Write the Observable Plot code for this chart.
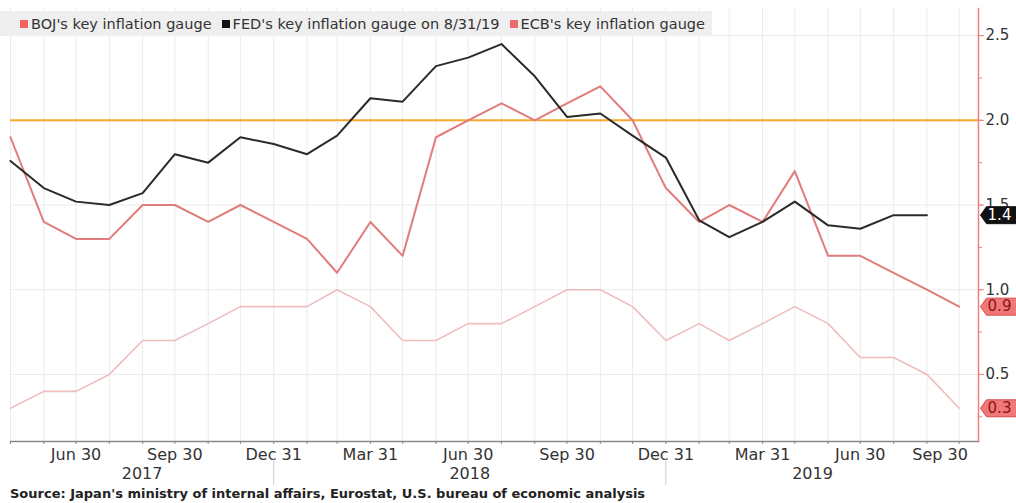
<!DOCTYPE html>
<html>
<head>
<meta charset="utf-8">
<script src="https://cdn.jsdelivr.net/npm/d3@7"></script>
<script src="https://cdn.jsdelivr.net/npm/@observablehq/plot@0.6"></script>
<style>
  body { margin: 0; background: #fff; font-family: "DejaVu Sans", sans-serif; }
  #wrap { position: relative; width: 1016px; }
  .legend {
    position: absolute; left: 0; top: 11px; width: 712px; height: 25px;
    background: #efefef; display: flex; align-items: center;
    font-size: 14.5px; color: #333; padding-left: 20px; box-sizing: border-box;
  }
  .item { display: flex; align-items: center; margin-right: 10px; white-space: nowrap; }
  .sw { width: 8px; height: 8px; margin-right: 3px; }
  .source { font-weight: bold; font-size: 13px; color: #222; padding-left: 10px; line-height: 18px; }
</style>
</head>
<body>
<div id="wrap">
  <div id="chart"></div>
  <div class="legend" id="legend"></div>
</div>
<div class="source">Source: Japan's ministry of internal affairs, Eurostat, U.S. bureau of economic analysis</div>
<script>
// Monthly readings, year-over-year %, dated at month end
const months = [
  "2017-04","2017-05","2017-06","2017-07","2017-08","2017-09","2017-10","2017-11","2017-12",
  "2018-01","2018-02","2018-03","2018-04","2018-05","2018-06","2018-07","2018-08","2018-09",
  "2018-10","2018-11","2018-12","2019-01","2019-02","2019-03","2019-04","2019-05","2019-06",
  "2019-07","2019-08","2019-09"
];
const bojValues = [0.3,0.4,0.4,0.5,0.7,0.7,0.8,0.9,0.9,0.9,1.0,0.9,0.7,0.7,0.8,0.8,0.9,1.0,1.0,0.9,0.7,0.8,0.7,0.8,0.9,0.8,0.6,0.6,0.5,0.3];
const fedValues = [1.76,1.60,1.52,1.50,1.57,1.80,1.75,1.90,1.86,1.80,1.91,2.13,2.11,2.32,2.37,2.45,2.26,2.02,2.04,1.91,1.78,1.41,1.31,1.40,1.52,1.38,1.36,1.44,1.44];
const ecbValues = [1.9,1.4,1.3,1.3,1.5,1.5,1.4,1.5,1.4,1.3,1.1,1.4,1.2,1.9,2.0,2.1,2.0,2.1,2.2,2.0,1.6,1.4,1.5,1.4,1.7,1.2,1.2,1.1,1.0,0.9];
const target = 2.0;
const yTicks = [0.5, 1.0, 1.5, 2.0, 2.5];
const seriesNames = ["BOJ's key inflation gauge", "FED's key inflation gauge on 8/31/19", "ECB's key inflation gauge"];

const colors = { boj: "#efbdbd", fed: "#2a2a2a", ecb: "#e27b7b", target: "#f5a82e", axis: "#ef7f7f" };

const monthEnd = m => d3.utcDay.offset(d3.utcMonth.offset(d3.utcParse("%Y-%m")(m), 1), -1);
const dates = months.map(monthEnd);
const toRows = vals => vals.map((v, i) => ({ date: dates[i], value: v }));
const boj = toRows(bojValues), fed = toRows(fedValues), ecb = toRows(ecbValues);

const firstDate = dates[0], lastDate = dates[dates.length - 1];
const xDomain = [firstDate, d3.utcDay.offset(lastDate, 18)];
const quarterEnds = dates.filter(d => d.getUTCMonth() % 3 === 2);
const yearBreaks = dates.filter(d => d.getUTCMonth() === 11);
// Year captions centred over the months each year covers
const years = [2017, 2018, 2019].map(y => {
  const a = d3.max([firstDate, new Date(Date.UTC(y - 1, 11, 31))]);
  const b = d3.min([lastDate, new Date(Date.UTC(y, 11, 31))]);
  return { year: String(y), mid: new Date((+a + +b) / 2) };
});

// Value tags pinned to the right axis
const fmt = d3.format(".1f");
const tags = [
  { value: fedValues[fedValues.length - 1], fill: "#111", stroke: "#111", text: "#fff" },
  { value: ecbValues[ecbValues.length - 1], fill: "#f07878", stroke: "#d44c4c", text: "#8a1414" },
  { value: bojValues[bojValues.length - 1], fill: "#f07878", stroke: "#d44c4c", text: "#8a1414" }
];
const tagShape = {
  draw(ctx) {
    ctx.moveTo(0, 0); ctx.lineTo(6, -8.5); ctx.lineTo(46, -8.5);
    ctx.lineTo(46, 8.5); ctx.lineTo(6, 8.5); ctx.closePath();
  }
};

const chart = Plot.plot({
  width: 1016,
  height: 485,
  marginLeft: 10,
  marginRight: 38,
  marginTop: 8,
  marginBottom: 44,
  style: { fontFamily: "DejaVu Sans, sans-serif", background: "#fff", color: "#333" },
  x: { type: "utc", domain: xDomain },
  y: { domain: [0.104, 2.66] },
  marks: [
    Plot.gridX({ ticks: dates, stroke: "#ebebeb", strokeOpacity: 1 }),
    Plot.gridY({ ticks: yTicks, stroke: "#ebebeb", strokeOpacity: 1 }),
    Plot.ruleY([target], { stroke: colors.target, strokeWidth: 2 }),
    Plot.line(boj, { x: "date", y: "value", stroke: colors.boj, strokeWidth: 1.6 }),
    Plot.line(ecb, { x: "date", y: "value", stroke: colors.ecb, strokeWidth: 2 }),
    Plot.line(fed, { x: "date", y: "value", stroke: colors.fed, strokeWidth: 2 }),
    Plot.frame({ anchor: "bottom", stroke: "#888", strokeWidth: 1.5 }),
    Plot.axisX({ ticks: dates, tickSize: 3, tickFormat: () => "", stroke: "#888", label: null }),
    Plot.axisX({ ticks: quarterEnds.slice(0, -1), tickSize: 0, tickPadding: 7, tickFormat: d3.utcFormat("%b %d"),
                 fontSize: 16, fill: "#333", label: null }),
    Plot.axisX({ ticks: quarterEnds.slice(-1), tickSize: 0, tickPadding: 7, tickFormat: d3.utcFormat("%b %d"),
                 fontSize: 16, fill: "#333", label: null, dx: -19 }),
    Plot.text(years, { x: "mid", text: "year", frameAnchor: "bottom", dy: 37, fontSize: 16, fill: "#333" }),
    Plot.ruleX(yearBreaks, { stroke: "#ccc", insetTop: 450, insetBottom: -46 }),
    Plot.frame({ anchor: "right", stroke: colors.axis, strokeWidth: 1.5 }),
    Plot.axisY({ anchor: "right", ticks: d3.range(0.25, 2.6, 0.25), tickSize: 3, tickFormat: () => "",
                 stroke: colors.axis, label: null }),
    Plot.axisY({ anchor: "right", ticks: yTicks, tickSize: 5, tickPadding: 2, tickFormat: ".1f",
                 fontSize: 15, stroke: colors.axis, fill: "#333", label: null }),
    Plot.dot(tags, { y: "value", frameAnchor: "right", dx: 2, symbol: tagShape, fill: "fill", stroke: "stroke", strokeWidth: 1 }),
    Plot.text(tags, { y: "value", frameAnchor: "right", textAnchor: "middle", dx: 21, text: d => fmt(d.value),
                      fill: "text", fontSize: 15 })
  ]
});
document.getElementById("chart").append(chart);

// Legend strip over the top of the plot
const swatches = ["#f26464", "#111", "#f06c6c"];
const legend = d3.select("#legend");
seriesNames.forEach((name, i) => {
  const item = legend.append("div").attr("class", "item");
  item.append("div").attr("class", "sw").style("background", swatches[i]);
  item.append("span").text(name);
});
</script>
</body>
</html>
